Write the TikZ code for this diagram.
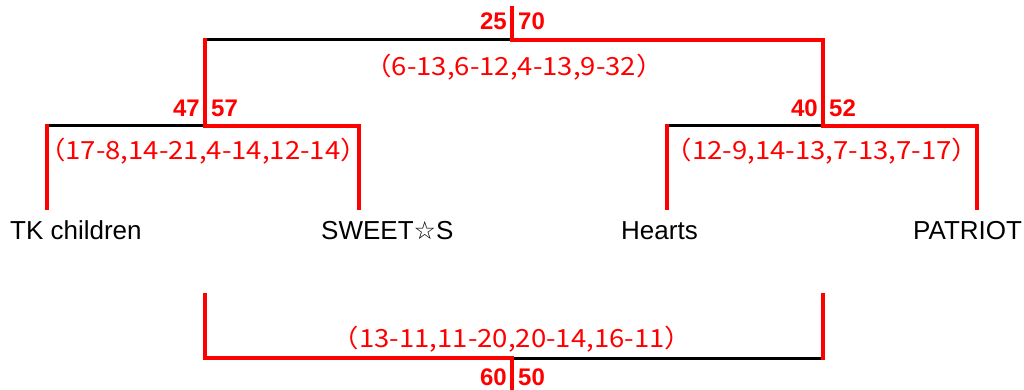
\documentclass[tikz,border=0pt]{standalone}
\usepackage{fontspec}
\setmainfont{Liberation Sans}
\newfontfamily\jpfont{Noto Sans CJK JP}
\newfontfamily\symfont{DejaVu Sans}
\begin{document}
\begin{tikzpicture}[x=1pt,y=-1pt,
        win/.style={red, line width=4pt, line cap=rect},
        lose/.style={black, line width=3pt},
        team/.style={anchor=base west, inner sep=0pt, font=\fontsize{26}{26}\selectfont},
        pts/.style={red, inner sep=0pt, font=\fontsize{24}{24}\selectfont\bfseries},
        games/.style={red, inner sep=0pt, xscale=1.1, font=\jpfont\fontsize{25}{25}\selectfont}]
        \useasboundingbox (0,0) rectangle (1024,390);

        % Teams
        \node[team] (tk) at (10,239) {TK children};
        \node[team] (sweets) at (321,239) {SWEET{\symfont\fontsize{25}{25}\selectfont ☆}S};
        \node[team] (hearts) at (621,239) {Hearts};
        \node[team] (patriot) at (913,239) {PATRIOT};

        % Leaf tops
        \foreach \n/\x in {1/47, 2/359, 3/667, 4/977} {
            \coordinate (leaf\n) at (\x, 208);
            \coordinate (sf\n) at (\x, 126);
        }
        \coordinate (semi1) at (205,126);
        \coordinate (semi2) at (823,126);
        \coordinate (fin1) at (205,40);
        \coordinate (fin2) at (823,40);
        \coordinate (final) at (512,40);
        \coordinate (top) at (512,8);

        % Third place
        \coordinate (third1) at (205,295);
        \coordinate (third2) at (823,295);
        \coordinate (bot1) at (205,358);
        \coordinate (bot2) at (823,358);
        \coordinate (bronze) at (512,358);
        \coordinate (bottom) at (512,392);

        % Semi-finals
        \draw[lose] (sf1) -- (semi1);
        \draw[lose] (sf3) -- (semi2);
        \foreach \n in {1,...,4} {
            \draw[win] (leaf\n) -- (sf\n);
        }
        \draw[win] (semi1) -- (sf2);
        \draw[win] (semi2) -- (sf4);

        % Final
        \draw[lose] (fin1) -- (final);
        \draw[win] (semi1) -- (fin1);
        \draw[win] (semi2) -- (fin2) -- (final) -- (top);

        % Third place match
        \draw[lose] (bronze) -- (bot2);
        \draw[win] (third2) -- (bot2);
        \draw[win] (third1) -- (bot1) -- (bronze);
        \draw[red, line width=4pt] (bronze) -- (bottom);

        % Points
        \node[pts, anchor=base east] (p25) at (507,30) {25};
        \node[pts, anchor=base west] (p70) at (518,30) {70};
        \node[pts, anchor=base east] (p47) at (200,117) {47};
        \node[pts, anchor=base west] (p57) at (211,117) {57};
        \node[pts, anchor=base east] (p40) at (818,117) {40};
        \node[pts, anchor=base west] (p52) at (829,117) {52};
        \node[pts, anchor=base east] (p60) at (507,385) {60};
        \node[pts, anchor=base west] (p50) at (518,385) {50};

        % Game scores
        \node[games] (g1) at (514,67) {（6-13,6-12,4-13,9-32）};
        \node[games] (g2) at (203,151) {（17-8,14-21,4-14,12-14）};
        \node[games] (g3) at (822,151) {（12-9,14-13,7-13,7-17）};
        \node[games] (g4) at (512,339) {（13-11,11-20,20-14,16-11）};
    \end{tikzpicture}
\end{document}
